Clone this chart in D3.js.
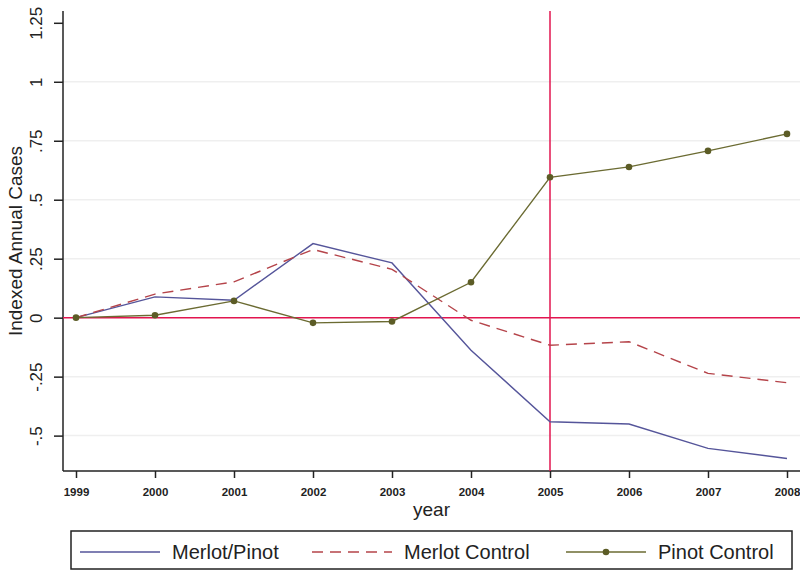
<!DOCTYPE html>
<html>
<head>
<meta charset="utf-8">
<script src="https://cdn.jsdelivr.net/npm/d3@7"></script>
<style>
  body { margin: 0; background: #fff; }
  svg { display: block; font-family: "Liberation Sans", Arial, sans-serif; }
</style>
</head>
<body>
<svg class="chart" width="800" height="571"></svg>
<script>
var years = [1999, 2000, 2001, 2002, 2003, 2004, 2005, 2006, 2007, 2008];
var merlotPinot   = [0, 0.088, 0.074, 0.314, 0.232, -0.138, -0.441, -0.451, -0.554, -0.597];
var merlotControl = [0, 0.100, 0.152, 0.289, 0.205, -0.011, -0.117, -0.102, -0.236, -0.276];
var pinotControl  = [0, 0.010, 0.071, -0.022, -0.016, 0.150, 0.595, 0.639, 0.707, 0.779];
var yTicks = [1.25, 1, 0.75, 0.5, 0.25, 0, -0.25, -0.5];
var yTickLabels = ["1.25", "1", ".75", ".5", ".25", "0", "-.25", "-.5"];
var seriesNames = ["Merlot/Pinot", "Merlot Control", "Pinot Control"];
var treatYear = 2005;

var svg = d3.select(".chart"),
    width = +svg.attr("width"),
    height = +svg.attr("height");

var plotLeft = 63, plotRight = 800, plotTop = 11, plotBottom = 471;

var x = d3.scaleLinear().domain([1999, 2008]).range([76, 787]);
var y = d3.scaleLinear().domain([-0.65, 1.3]).range([plotBottom, plotTop]);

// gridlines
svg.append("g")
  .selectAll("line")
  .data(yTicks.filter(function(d) { return d < 1.2 && d != 0; }))
  .enter().append("line")
  .attr("x1", plotLeft).attr("x2", plotRight)
  .attr("y1", function(d) { return y(d); })
  .attr("y2", function(d) { return y(d); })
  .style("stroke", "#efefef")
  .style("stroke-width", 1.5);

// y axis
var yAxis = svg.append("g")
  .attr("transform", "translate(" + plotLeft + ",0)")
  .call(d3.axisLeft(y).tickValues(yTicks).tickSize(9).tickSizeOuter(0)
    .tickFormat(function(d, i) { return yTickLabels[i]; }));
yAxis.select(".domain").attr("d", "M0," + plotTop + "V" + plotBottom).style("stroke", "#222").style("stroke-width", 1.5);
yAxis.selectAll(".tick line").style("stroke", "#222").style("stroke-width", 1.5);
yAxis.selectAll(".tick text")
  .attr("x", null).attr("dy", null)
  .attr("transform", "translate(-21,0) rotate(-90)")
  .attr("text-anchor", "middle")
  .style("font-size", "17px")
  .style("font-family", "'Liberation Sans', Arial, sans-serif")
  .style("fill", "#222");

// x axis
var xAxis = svg.append("g")
  .attr("transform", "translate(0," + plotBottom + ")")
  .call(d3.axisBottom(x).tickValues(years).tickSize(7).tickSizeOuter(0)
    .tickFormat(d3.format("d")));
xAxis.select(".domain").attr("d", "M" + plotLeft + ",0H" + plotRight).style("stroke", "#222").style("stroke-width", 1.5);
xAxis.selectAll(".tick line").style("stroke", "#222").style("stroke-width", 1.5);
xAxis.selectAll(".tick text")
  .attr("y", 25).attr("dy", null)
  .style("font-size", "11.5px")
  .style("font-weight", "bold")
  .style("font-family", "'Liberation Sans', Arial, sans-serif")
  .style("fill", "#222");

// axis titles
svg.append("text")
  .attr("transform", "translate(22," + ((plotTop + plotBottom) / 2) + ") rotate(-90)")
  .attr("text-anchor", "middle")
  .style("font-size", "19px")
  .style("fill", "#222")
  .text("Indexed Annual Cases");

svg.append("text")
  .attr("x", (plotLeft + plotRight) / 2).attr("y", 516)
  .attr("text-anchor", "middle")
  .style("font-size", "19px")
  .style("fill", "#222")
  .text("year");

// reference lines
svg.append("line")
  .attr("x1", plotLeft).attr("x2", plotRight)
  .attr("y1", y(0)).attr("y2", y(0))
  .style("stroke", "#e2154f").style("stroke-width", 1.5);
svg.append("line")
  .attr("x1", x(treatYear)).attr("x2", x(treatYear))
  .attr("y1", plotTop).attr("y2", plotBottom)
  .style("stroke", "#e2154f").style("stroke-width", 1.5);

var line = d3.line()
  .x(function(d, i) { return x(years[i]); })
  .y(function(d) { return y(d); });

var styles = [
  { color: "#55559a", dash: null },
  { color: "#b5444a", dash: "11,7" },
  { color: "#6b6b32", dash: null }
];
var series = [merlotPinot, merlotControl, pinotControl];

svg.append("g")
  .selectAll("path")
  .data(series)
  .enter().append("path")
  .attr("d", line)
  .style("fill", "none")
  .style("stroke", function(d, i) { return styles[i].color; })
  .style("stroke-width", 1.4)
  .style("stroke-dasharray", function(d, i) { return styles[i].dash; });

svg.append("g")
  .selectAll("circle")
  .data(pinotControl)
  .enter().append("circle")
  .attr("cx", function(d, i) { return x(years[i]); })
  .attr("cy", function(d) { return y(d); })
  .attr("r", 3.3)
  .style("fill", "#5c5c26");

// legend
var legend = svg.append("g");
legend.append("rect")
  .attr("x", 71).attr("y", 531).attr("width", 721).attr("height", 38)
  .style("fill", "#fff").style("stroke", "#222").style("stroke-width", 1.5);

var legX = [80, 312, 566];
var items = legend.selectAll("g.item")
  .data(seriesNames)
  .enter().append("g")
  .attr("class", "item")
  .attr("transform", function(d, i) { return "translate(" + legX[i] + ",0)"; });

items.append("line")
  .attr("x1", 0).attr("x2", 80)
  .attr("y1", 552).attr("y2", 552)
  .style("stroke", function(d, i) { return styles[i].color; })
  .style("stroke-width", 1.4)
  .style("stroke-dasharray", function(d, i) { return styles[i].dash; });

items.filter(function(d, i) { return i == 2; })
  .append("circle")
  .attr("cx", 40).attr("cy", 552).attr("r", 3.3)
  .style("fill", "#5c5c26");

items.append("text")
  .attr("x", 92).attr("y", 559)
  .style("font-size", "20px")
  .style("fill", "#222")
  .text(function(d) { return d; });
</script>
</body>
</html>
